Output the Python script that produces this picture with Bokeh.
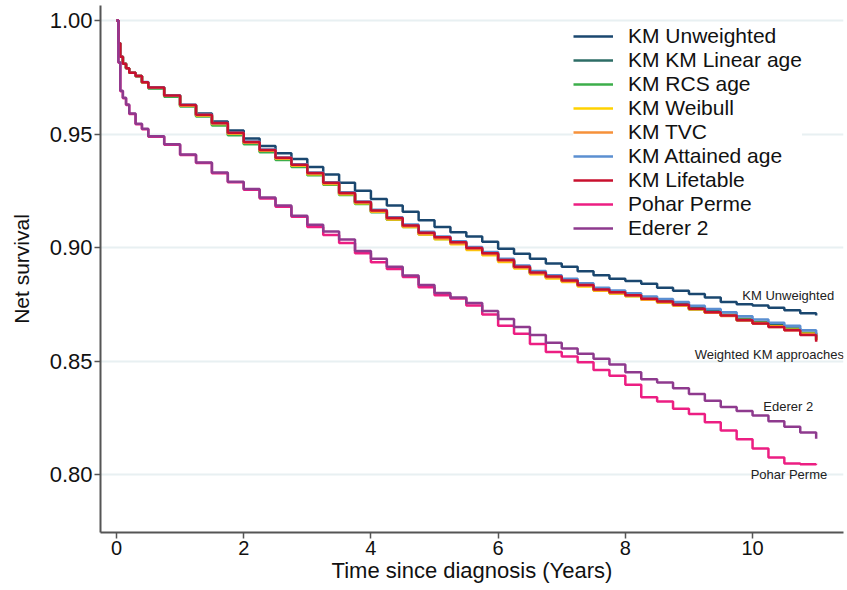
from bokeh.plotting import figure
from bokeh.models import FixedTicker, NumeralTickFormatter, Range1d, Legend, Label
from bokeh.embed import file_html
from bokeh.resources import INLINE

FONT = "Liberation Sans"

# time grid (years since diagnosis)
time = [0, 0.03, 0.06, 0.1, 0.15, 0.2, 0.3, 0.4, 0.5,
        0.75, 1.0, 1.25, 1.5, 1.75, 2.0, 2.25, 2.5, 2.75, 3.0, 3.25, 3.5, 3.75,
        4.0, 4.25, 4.5, 4.75, 5.0, 5.25, 5.5, 5.75, 6.0, 6.25, 6.5, 6.75, 7.0,
        7.25, 7.5, 7.75, 8.0, 8.25, 8.5, 8.75, 9.0, 9.25, 9.5, 9.75, 10.0,
        10.25, 10.5, 10.75, 11.0]

km_unweighted = [1.0, 0.990, 0.984, 0.981, 0.979, 0.977, 0.9755, 0.9728, 0.9705, 0.967, 0.9628,
                 0.959, 0.9555, 0.9515, 0.948, 0.9447, 0.9415, 0.939, 0.9355, 0.9322, 0.9285,
                 0.925, 0.9214, 0.9185, 0.9158, 0.912, 0.909, 0.9067, 0.9048, 0.9025, 0.8995,
                 0.8972, 0.895, 0.893, 0.8915, 0.8895, 0.8878, 0.8862, 0.8852, 0.884, 0.8823,
                 0.881, 0.8795, 0.878, 0.876, 0.875, 0.8745, 0.8735, 0.8724, 0.871, 0.870]
km_linear_age = [1.0, 0.990, 0.984, 0.981, 0.979, 0.977, 0.9755, 0.9728, 0.9703, 0.9667, 0.9624,
                 0.958, 0.9542, 0.9499, 0.9459, 0.9424, 0.939, 0.9359, 0.9322, 0.928, 0.9235,
                 0.9195, 0.9158, 0.9125, 0.9092, 0.906, 0.904, 0.9018, 0.8994, 0.8971, 0.8942,
                 0.8912, 0.8887, 0.8869, 0.8852, 0.8833, 0.8813, 0.8801, 0.8789, 0.8774, 0.8763,
                 0.875, 0.8733, 0.8719, 0.8704, 0.8686, 0.8672, 0.8658, 0.8643, 0.8624, 0.8595]
km_rcs_age = [1.0, 0.990, 0.984, 0.981, 0.979, 0.977, 0.9754, 0.9726, 0.9701, 0.9664, 0.9621,
              0.9577, 0.9538, 0.9495, 0.9455, 0.942, 0.9386, 0.9355, 0.9318, 0.9276, 0.9231,
              0.9192, 0.9155, 0.9122, 0.909, 0.9058, 0.9038, 0.9016, 0.8992, 0.897, 0.8941,
              0.8911, 0.8886, 0.8868, 0.8851, 0.8831, 0.8811, 0.8799, 0.8786, 0.877, 0.8758,
              0.8744, 0.8727, 0.8713, 0.8699, 0.868, 0.8666, 0.8652, 0.8638, 0.862, 0.8592]
km_weibull = [1.0, 0.990, 0.984, 0.981, 0.979, 0.977, 0.9755, 0.9727, 0.9704, 0.9668, 0.9625,
              0.9582, 0.9544, 0.9501, 0.9461, 0.9426, 0.9391, 0.936, 0.9323, 0.928, 0.9235,
              0.9195, 0.9157, 0.9123, 0.909, 0.9057, 0.9036, 0.9014, 0.8989, 0.8966, 0.8936,
              0.8907, 0.8882, 0.8864, 0.8848, 0.8828, 0.8809, 0.8797, 0.8785, 0.877, 0.8758,
              0.8745, 0.8728, 0.8713, 0.8699, 0.8681, 0.8667, 0.8653, 0.8638, 0.862, 0.8593]
km_tvc = [1.0, 0.990, 0.984, 0.981, 0.979, 0.977, 0.9755, 0.9727, 0.9704, 0.9669, 0.9626,
          0.9583, 0.9545, 0.9502, 0.9462, 0.9427, 0.9392, 0.9362, 0.9325, 0.9282, 0.9237,
          0.9197, 0.916, 0.9126, 0.9093, 0.906, 0.904, 0.9018, 0.8993, 0.897, 0.894,
          0.8911, 0.8886, 0.8868, 0.8851, 0.8831, 0.8812, 0.88, 0.8787, 0.8771, 0.8759,
          0.8745, 0.8728, 0.8713, 0.8698, 0.868, 0.8665, 0.865, 0.8636, 0.8617, 0.859]
km_attained_age = [1.0, 0.990, 0.984, 0.981, 0.979, 0.977, 0.9756, 0.9729, 0.9706, 0.9671, 0.9629,
                   0.9586, 0.9549, 0.9506, 0.9467, 0.9432, 0.9397, 0.9367, 0.933, 0.9288, 0.9243,
                   0.9203, 0.9166, 0.9133, 0.9101, 0.9069, 0.9049, 0.9027, 0.9002, 0.898, 0.895,
                   0.8921, 0.8896, 0.8878, 0.8862, 0.8842, 0.8823, 0.8811, 0.8799, 0.8784, 0.8773,
                   0.876, 0.8743, 0.8729, 0.8715, 0.8697, 0.8683, 0.8669, 0.8655, 0.8636, 0.8605]
km_lifetable = [1.0, 0.990, 0.984, 0.981, 0.979, 0.977, 0.9755, 0.9728, 0.9705, 0.967, 0.9628,
                0.9585, 0.9548, 0.9505, 0.9465, 0.943, 0.9395, 0.9365, 0.9328, 0.9285, 0.924,
                0.920, 0.9163, 0.913, 0.9097, 0.9065, 0.9045, 0.9023, 0.8998, 0.8975, 0.8945,
                0.8915, 0.889, 0.8872, 0.8855, 0.8835, 0.8815, 0.8803, 0.879, 0.8774, 0.8762,
                0.8748, 0.873, 0.8715, 0.870, 0.868, 0.8665, 0.865, 0.8635, 0.8615, 0.8585]
pohar_perme = [1.0, 0.9814, 0.9688, 0.9658, 0.9628, 0.9588, 0.9543, 0.9521, 0.9488, 0.9453, 0.9408,
               0.9372, 0.9327, 0.9287, 0.9254, 0.9216, 0.918, 0.9135, 0.909, 0.9055, 0.902,
               0.8975, 0.8935, 0.8905, 0.887, 0.8825, 0.879, 0.8775, 0.8745, 0.8705, 0.8655,
               0.862, 0.8575, 0.854, 0.852, 0.8495, 0.846, 0.8435, 0.8395, 0.834, 0.8322,
               0.829, 0.8267, 0.823, 0.8194, 0.8155, 0.8115, 0.8075, 0.8048, 0.8045, 0.8047]
ederer_2 = [1.0, 0.9816, 0.969, 0.966, 0.963, 0.959, 0.9545, 0.9523, 0.949, 0.9455, 0.941,
            0.9375, 0.933, 0.929, 0.9258, 0.922, 0.9185, 0.914, 0.910, 0.907, 0.9035,
            0.8985, 0.895, 0.8915, 0.8877, 0.8835, 0.880, 0.878, 0.8755, 0.872, 0.8685,
            0.865, 0.8615, 0.858, 0.8555, 0.8532, 0.851, 0.8485, 0.845, 0.842, 0.8405,
            0.838, 0.8355, 0.8325, 0.8297, 0.828, 0.826, 0.8235, 0.821, 0.8185, 0.8157]

series_names = ["KM Unweighted", "KM KM Linear age", "KM RCS age", "KM Weibull", "KM TVC",
                "KM Attained age", "KM Lifetable", "Pohar Perme", "Ederer 2"]
series_values = [km_unweighted, km_linear_age, km_rcs_age, km_weibull, km_tvc,
                 km_attained_age, km_lifetable, pohar_perme, ederer_2]
series_colors = ["#1a476f", "#2d6d66", "#3cae4a", "#ffd200", "#f6913a",
                 "#5b8fd1", "#c8102e", "#ec1e82", "#8e3a8e"]

x_ticks = [0, 2, 4, 6, 8, 10]
y_ticks = [0.80, 0.85, 0.90, 0.95, 1.00]

annotations = [("KM Unweighted", 9.84, 0.8789),
               ("Weighted KM approaches", 9.09, 0.8529),
               ("Ederer 2", 10.17, 0.8300),
               ("Pohar Perme", 9.97, 0.8000)]

p = figure(width=847, height=590, output_backend="svg", toolbar_location=None,
           x_range=Range1d(-0.2516, 11.43), y_range=Range1d(0.77445, 1.00661),
           min_border_left=100, min_border_right=4, min_border_top=5, min_border_bottom=58)
p.outline_line_color = None
p.background_fill_color = "white"
p.border_fill_color = "white"

renderers = []
for name, vals, col in zip(series_names, series_values, series_colors):
    r = p.step(time, vals, mode="after", line_width=2.5, line_color=col)
    renderers.append((name, [r]))

legend = Legend(items=renderers, location=(473, 292), orientation="vertical",
                label_text_font=FONT, label_text_font_size="21px", label_text_color="#111111",
                glyph_width=40, glyph_height=20, label_height=20, label_standoff=15,
                spacing=0, padding=5, margin=0, border_line_color=None,
                background_fill_color="white", background_fill_alpha=1.0)
p.add_layout(legend)

for txt, tx, ty in annotations:
    p.add_layout(Label(x=tx, y=ty, text=txt, text_font=FONT, text_font_size="13px",
                       text_color="#222222", text_baseline="middle", text_align="left"))

p.xgrid.visible = False
p.ygrid.grid_line_color = "#e8f0f2"
p.ygrid.grid_line_width = 2
p.ygrid.ticker = FixedTicker(ticks=y_ticks)

p.xaxis.ticker = FixedTicker(ticks=x_ticks)
p.yaxis.ticker = FixedTicker(ticks=y_ticks)
p.yaxis.formatter = NumeralTickFormatter(format="0.00")
for ax in (p.xaxis[0], p.yaxis[0]):
    ax.axis_line_color = "#555555"
    ax.axis_line_width = 2
    ax.major_tick_line_color = "#555555"
    ax.major_tick_line_width = 1.5
    ax.major_tick_out = 6
    ax.major_tick_in = 0
    ax.minor_tick_line_color = None
    ax.major_label_text_font = FONT
    ax.major_label_text_color = "#111111"
    ax.axis_label_text_font = FONT
    ax.axis_label_text_font_style = "normal"
    ax.axis_label_text_color = "#111111"

p.xaxis.axis_label = "Time since diagnosis (Years)"
p.xaxis.major_label_text_font_size = "20px"
p.xaxis.axis_label_text_font_size = "22px"
p.xaxis.major_label_standoff = 2
p.xaxis.axis_label_standoff = 0

p.yaxis.axis_label = "Net survival"
p.yaxis.major_label_text_font_size = "22px"
p.yaxis.axis_label_text_font_size = "21px"
p.yaxis.major_label_standoff = 2
p.yaxis.axis_label_standoff = 14

html = file_html(p, INLINE)
open("out.html", "w").write(html)
